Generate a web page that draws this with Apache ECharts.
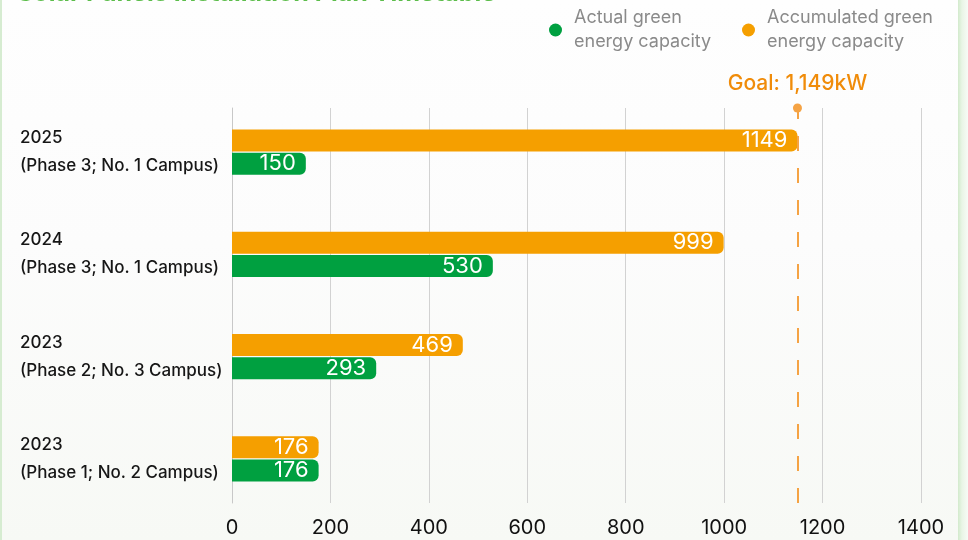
<!DOCTYPE html>
<html>
<head>
<meta charset="utf-8">
<script src="https://cdn.jsdelivr.net/npm/echarts@6/dist/echarts.min.js"></script>
<style>
  html, body { margin: 0; padding: 0; background: #ffffff; }
  #wrap { position: relative; width: 968px; height: 540px; overflow: hidden; }
  #chart { position: absolute; left: 0; top: 0; width: 968px; height: 540px;
    background: linear-gradient(to bottom, #fefefe 0%, #fcfcfc 45%, #f7f9f5 100%); }
  #edgeL { position: absolute; left: 0; top: 0; width: 2px; height: 540px; background: #d6ecd1; pointer-events: none; }
  #edgeR { position: absolute; left: 958px; top: 0; width: 10px; height: 540px; pointer-events: none;
    background: linear-gradient(to right, #d2eacc 0%, #e9f5e6 40%, #f7fbf6 100%); }
</style>
</head>
<body>
<div id="wrap">
  <div id="chart"></div>
  <div id="edgeL"></div>
  <div id="edgeR"></div>
</div>
<script>
// ---- data (bottom -> top) ----
const categories = [
  '2023\n(Phase 1; No. 2 Campus)',
  '2023\n(Phase 2; No. 3 Campus)',
  '2024\n(Phase 3; No. 1 Campus)',
  '2025\n(Phase 3; No. 1 Campus)'
];
const actualCapacity = [176, 293, 530, 150];
const accumulatedCapacity = [176, 469, 999, 1149];
const goalValue = 1149;
const seriesNames = ['Actual green\nenergy capacity', 'Accumulated green\nenergy capacity'];
const titleText = 'Solar Panels Installation Plan Timetable';
const xMin = 0, xMax = 1400, xInterval = 200;

const GREEN = '#00a040';
const ORANGE = '#f59f00';
const FONT = 'Inter, "Noto Sans", sans-serif';

const chart = echarts.init(document.getElementById('chart'), null, { renderer: 'canvas' });

const barLabel = {
  show: true, position: 'insideRight', distance: 10,
  color: '#ffffff', fontSize: 22, fontFamily: FONT
};

const legendText = {
  color: '#8a8a8a', fontSize: 18, fontFamily: FONT, lineHeight: 24,
  padding: [24, 0, 0, 7]
};

const option = {
  backgroundColor: 'transparent',
  animation: false,
  title: {
    text: titleText, left: 17, top: -19, padding: 0,
    textStyle: { color: '#5cbd4b', fontSize: 25, fontWeight: 'bold', fontFamily: FONT }
  },
  legend: [
    { data: [seriesNames[0]], left: 549, top: -6, padding: 0, icon: 'circle',
      itemWidth: 13, itemHeight: 13, textStyle: legendText, selectedMode: false },
    { data: [seriesNames[1]], left: 742, top: -6, padding: 0, icon: 'circle',
      itemWidth: 13, itemHeight: 13, textStyle: legendText, selectedMode: false }
  ],
  grid: [
    { left: 232, right: 47, top: 101, bottom: 30, containLabel: false },
    { left: 232, right: 47, top: 108, bottom: 37, containLabel: false }
  ],
  xAxis: [
    { type: 'value', gridIndex: 0, min: xMin, max: xMax, interval: xInterval, show: false },
    { type: 'value', gridIndex: 1, min: xMin, max: xMax, interval: xInterval,
      axisLine: { show: false }, axisTick: { show: false },
      axisLabel: { color: '#111111', fontSize: 20, fontFamily: FONT, margin: 15,
        formatter: (v) => String(v) },
      splitLine: { show: true, lineStyle: { color: '#d2d2d2', width: 1 } } }
  ],
  yAxis: [
    { type: 'category', gridIndex: 0, data: categories,
      axisLine: { show: false }, axisTick: { show: false },
      axisLabel: { align: 'left', margin: 212, color: '#161616', fontSize: 17,
        fontWeight: 500, fontFamily: FONT, lineHeight: 28 } },
    { type: 'category', gridIndex: 1, data: categories,
      axisLine: { show: true, lineStyle: { color: '#c8c8c8', width: 1 } },
      axisTick: { show: false }, axisLabel: { show: false } }
  ],
  series: [
    { name: seriesNames[1], type: 'bar', xAxisIndex: 0, yAxisIndex: 0,
      data: accumulatedCapacity, barWidth: 22, barGap: '5%',
      itemStyle: { color: ORANGE, borderRadius: [0, 6, 6, 0] }, label: barLabel },
    { name: seriesNames[0], type: 'bar', xAxisIndex: 0, yAxisIndex: 0,
      data: actualCapacity, barWidth: 22, barGap: '5%',
      itemStyle: { color: GREEN, borderRadius: [0, 6, 6, 0] }, label: barLabel },
    { name: 'goal', type: 'line', xAxisIndex: 1, yAxisIndex: 1, data: [], silent: true,
      markLine: {
        silent: true, symbol: ['none', 'circle'], symbolSize: 9,
        lineStyle: { color: '#f5a344', width: 2, type: [15, 17] },
        label: { show: true, position: 'end', distance: 14,
          formatter: 'Goal: ' + goalValue.toLocaleString('en-US') + 'kW',
          color: '#f08c0a', fontSize: 21, fontWeight: 500, fontFamily: FONT },
        data: [{ xAxis: goalValue }]
      } }
  ]
};
chart.setOption(option);
</script>
</body>
</html>
